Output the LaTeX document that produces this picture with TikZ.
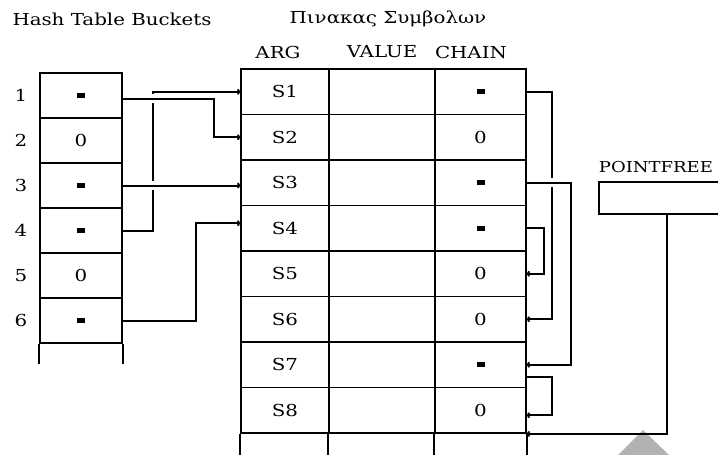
\documentclass[tikz,border=0pt]{standalone}
\usepackage{fontspec}
\setmainfont{DejaVu Serif}[FakeStretch=1.2]
\usepackage{tikz}
\usetikzlibrary{arrows.meta}

\newcommand{\ptrmark}{\rule{8pt}{5pt}}

\begin{document}
\begin{tikzpicture}[x=1pt, y=-1pt, line width=1.8pt,
        font=\fontsize{16.5}{20}\selectfont,
        >={To[length=3pt,width=6pt]},
        bucket/.style = {draw, rectangle, inner sep=0, minimum width=82, minimum height=45},
        entry/.style = {draw, rectangle, inner sep=0, minimum height=45.5},
        arg/.style = {entry, minimum width=88},
        val/.style = {entry, minimum width=106},
        chn/.style = {entry, minimum width=91},
        link/.style = {->, line width=2pt},
        gapbox/.style = {fill=white, inner sep=0, minimum width=6, minimum height=9}]
        \useasboundingbox (0, 0) rectangle (718, 455);

        % headings
        \node at (112, 19) (hdrbuckets) {Hash Table Buckets};
        \node at (388, 19) (hdrsymbols) {Πινακας Συμβολων};
        \node at (278, 52) (hdrarg) {ARG};
        \node at (382, 52) (hdrvalue) {VALUE};
        \node at (471, 52) (hdrchain) {CHAIN};
        \node[anchor=west, inner sep=0, font=\fontsize{15}{18}\selectfont] at (598, 167) (hdrfree) {POINTFREE};

        % hash buckets
        \node[bucket] at (81, 95.5) (b1) {\ptrmark};
        \node[bucket] at (81, 140.5) (b2) {0};
        \node[bucket] at (81, 185.5) (b3) {\ptrmark};
        \node[bucket] at (81, 230.5) (b4) {\ptrmark};
        \node[bucket] at (81, 275.5) (b5) {0};
        \node[bucket] at (81, 320.5) (b6) {\ptrmark};
        \draw (b6.south west) -- ++(0, 20);
        \draw (b6.south east) -- ++(0, 20);
        \node at (21, 95.5) (n1) {1};
        \node at (21, 140.5) (n2) {2};
        \node at (21, 185.5) (n3) {3};
        \node at (21, 230.5) (n4) {4};
        \node at (21, 275.5) (n5) {5};
        \node at (21, 320.5) (n6) {6};

        % symbol table
        \node[arg] at (285, 91.75) (s1) {S1};
        \node[arg] at (285, 137.25) (s2) {S2};
        \node[arg] at (285, 182.75) (s3) {S3};
        \node[arg] at (285, 228.25) (s4) {S4};
        \node[arg] at (285, 273.75) (s5) {S5};
        \node[arg] at (285, 319.25) (s6) {S6};
        \node[arg] at (285, 364.75) (s7) {S7};
        \node[arg] at (285, 410.25) (s8) {S8};
        \node[val] at (382, 91.75) (v1) {};
        \node[val] at (382, 137.25) (v2) {};
        \node[val] at (382, 182.75) (v3) {};
        \node[val] at (382, 228.25) (v4) {};
        \node[val] at (382, 273.75) (v5) {};
        \node[val] at (382, 319.25) (v6) {};
        \node[val] at (382, 364.75) (v7) {};
        \node[val] at (382, 410.25) (v8) {};
        \node[chn] at (480.5, 91.75) (c1) {\ptrmark};
        \node[chn] at (480.5, 137.25) (c2) {0};
        \node[chn] at (480.5, 182.75) (c3) {\ptrmark};
        \node[chn] at (480.5, 228.25) (c4) {\ptrmark};
        \node[chn] at (480.5, 273.75) (c5) {0};
        \node[chn] at (480.5, 319.25) (c6) {0};
        \node[chn] at (480.5, 364.75) (c7) {\ptrmark};
        \node[chn] at (480.5, 410.25) (c8) {0};
        \draw (s8.south west) -- ++(0, 22);
        \draw (v8.south west) -- ++(0, 22);
        \draw (c8.south west) -- ++(0, 22);
        \draw (c8.south east) -- ++(0, 22);

        % free list head
        \node[inner sep=0, minimum width=118, minimum height=30] at (659, 198) (free) {};
        \draw (free.north east) -- (free.north west) -- (free.south west) -- (free.south east);

        \fill[black!30] (643, 430) -- (669, 455) -- (618, 455) -- cycle;

        % buckets -> first symbol
        \coordinate (turn4) at ([xshift=30pt]b4.east);
        \coordinate (out1) at ([yshift=-3pt]b1.east);
        \draw[link] (b4.east) -- (turn4) |- (s1.west);
        \draw[link] (b6.east) -- ++(73, 0) |- ([yshift=5pt]s4.west);
        \node[gapbox] at (turn4 |- out1) (gap1) {};
        \node[gapbox] at (turn4 |- b3.east) (gap3) {};
        \draw[link] (out1) -- ++(91, 0) |- (s2.west);
        \draw[link] (b3.east) -- (b3.east -| s3.west);
        % chains
        \coordinate (turn1) at ([xshift=25pt]c1.east);
        \draw[link] (c1.east) -- (turn1) |- (c6.east);
        \draw[link] (c4.east) -- ++(17, 0) |- (c5.east);
        \draw[link] ([yshift=-12pt]c7.east) -- ++(25, 0) |- ([yshift=-5pt]c8.east);
        \draw[link] ([xshift=8pt]free.south) |- (c8.south east);
        \node[gapbox] at (turn1 |- c3.east) (gapc) {};
        \draw[link] (c3.east) -- ++(44, 0) |- (c7.east);
\end{tikzpicture}
\end{document}
